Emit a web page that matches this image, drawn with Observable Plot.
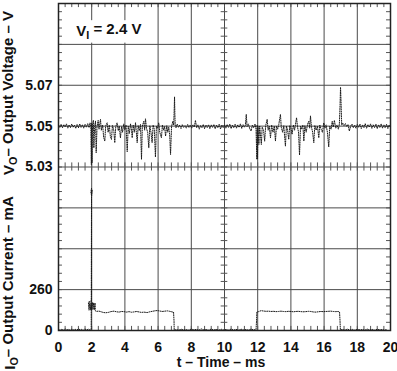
<!DOCTYPE html>
<html><head><meta charset="utf-8">
<script src="https://cdn.jsdelivr.net/npm/d3@7"></script>
<script src="https://cdn.jsdelivr.net/npm/@observablehq/plot@0.6"></script>
<style>body{margin:0;background:#fff;} svg{display:block}</style>
</head><body><div id="chart"></div>
<script>
// ---- data ----
const timeTicks = [0, 2, 4, 6, 8, 10, 12, 14, 16, 18, 20];
const voltageTicks = [5.03, 5.05, 5.07];
const currentTicks = [0, 260];
const inputLabel = "2.4 V";

const voltT = [0.00,0.08,0.16,0.24,0.32,0.40,0.48,0.56,0.64,0.72,0.80,0.88,0.96,1.04,1.12,1.20,1.28,1.36,1.44,1.52,1.60,1.68,1.76,1.84,1.90,1.95,1.98,2.00,2.02,2.05,2.10,2.13,2.18,2.23,2.27,2.32,2.39,2.44,2.53,2.58,2.66,2.72,2.79,2.84,2.93,2.99,3.06,3.13,3.19,3.25,3.33,3.39,3.45,3.53,3.60,3.66,3.73,3.80,3.86,3.93,4.00,4.07,4.14,4.20,4.27,4.34,4.40,4.44,4.50,4.57,4.64,4.70,4.74,4.80,4.87,4.94,5.00,5.05,5.14,5.19,5.24,5.30,5.37,5.44,5.50,5.57,5.64,5.70,5.77,5.84,5.90,5.97,6.04,6.10,6.20,6.26,6.33,6.39,6.45,6.52,6.58,6.64,6.70,6.75,6.81,6.89,6.94,6.97,6.99,7.01,7.03,7.08,7.15,7.22,7.30,7.38,7.46,7.54,7.62,7.70,7.78,7.86,7.94,8.02,8.10,8.18,8.25,8.32,8.40,8.48,8.56,8.64,8.72,8.80,8.88,8.96,9.04,9.12,9.20,9.28,9.36,9.44,9.52,9.60,9.68,9.76,9.84,9.92,10.00,
10.08,10.16,10.24,10.32,10.40,10.48,10.56,10.64,10.72,10.80,10.88,10.96,11.04,11.12,11.20,11.26,11.31,11.36,11.44,11.52,11.60,11.68,11.76,11.84,11.90,11.95,11.97,11.99,12.02,12.07,12.12,12.17,12.22,12.27,12.35,12.42,12.48,12.57,12.63,12.70,12.77,12.84,12.92,13.00,13.07,13.13,13.20,13.27,13.37,13.42,13.50,13.57,13.67,13.73,13.80,13.87,13.93,14.00,14.07,14.15,14.22,14.28,14.34,14.40,14.46,14.52,14.58,14.65,14.72,14.78,14.84,14.92,15.00,15.08,15.13,15.18,15.24,15.31,15.38,15.44,15.52,15.60,15.68,15.74,15.82,15.90,15.98,16.05,16.12,16.20,16.28,16.34,16.42,16.49,16.55,16.62,16.70,16.78,16.86,16.92,16.96,16.99,17.02,17.06,17.12,17.20,17.28,17.36,17.44,17.52,17.60,17.68,17.76,17.84,17.92,18.00,18.08,18.16,18.24,18.32,18.40,18.48,18.56,18.64,18.72,18.80,18.88,18.96,19.04,19.12,19.20,19.28,19.36,19.44,19.52,19.60,19.68,19.76,19.84,19.92,20.00];
const voltV = [5.0504,5.0494,5.0509,5.0492,5.0507,5.0496,5.0511,5.0490,5.0506,5.0493,5.0510,5.0495,5.0505,5.0489,5.0508,5.0492,5.0511,5.0494,5.0507,5.0490,5.0509,5.0495,5.0512,5.0493,5.0516,5.0498,5.0312,5.0515,5.0320,5.0505,5.0528,5.0394,5.0500,5.0524,5.0370,5.0497,5.0528,5.0485,5.0533,5.0480,5.0505,5.0445,5.0427,5.0500,5.0516,5.0470,5.0505,5.0445,5.0435,5.0503,5.0480,5.0419,5.0498,5.0516,5.0478,5.0500,5.0443,5.0498,5.0470,5.0510,5.0482,5.0505,5.0375,5.0500,5.0465,5.0511,5.0480,5.0443,5.0505,5.0470,5.0516,5.0460,5.0419,5.0502,5.0478,5.0508,5.0337,5.0500,5.0524,5.0480,5.0536,5.0490,5.0470,5.0394,5.0502,5.0470,5.0419,5.0505,5.0485,5.0349,5.0500,5.0490,5.0516,5.0470,5.0443,5.0505,5.0480,5.0498,5.0451,5.0502,5.0470,5.0495,5.0455,5.0361,5.0498,5.0524,5.0505,5.0580,5.0643,5.0560,5.0505,5.0492,5.0510,5.0495,5.0505,5.0488,5.0507,5.0494,5.0502,5.0490,5.0508,5.0494,5.0505,5.0490,5.0506,5.0495,5.0528,5.0492,5.0506,5.0485,5.0503,5.0492,5.0508,5.0488,5.0505,5.0493,5.0507,5.0488,5.0506,5.0494,5.0508,5.0487,5.0505,5.0492,5.0509,5.0486,5.0504,5.0493,5.0506,
5.0490,5.0508,5.0494,5.0510,5.0488,5.0505,5.0492,5.0509,5.0490,5.0506,5.0494,5.0511,5.0489,5.0507,5.0495,5.0505,5.0557,5.0498,5.0510,5.0488,5.0476,5.0505,5.0492,5.0510,5.0485,5.0337,5.0505,5.0340,5.0498,5.0410,5.0500,5.0452,5.0410,5.0495,5.0480,5.0427,5.0502,5.0533,5.0480,5.0500,5.0443,5.0505,5.0470,5.0500,5.0427,5.0500,5.0485,5.0508,5.0557,5.0495,5.0470,5.0502,5.0402,5.0500,5.0480,5.0435,5.0503,5.0492,5.0460,5.0505,5.0480,5.0510,5.0541,5.0495,5.0470,5.0359,5.0500,5.0485,5.0505,5.0427,5.0502,5.0470,5.0508,5.0524,5.0490,5.0549,5.0495,5.0470,5.0419,5.0503,5.0480,5.0500,5.0443,5.0505,5.0485,5.0470,5.0516,5.0490,5.0505,5.0470,5.0398,5.0500,5.0485,5.0524,5.0495,5.0528,5.0490,5.0505,5.0485,5.0510,5.0600,5.0690,5.0620,5.0505,5.0515,5.0502,5.0512,5.0498,5.0508,5.0476,5.0500,5.0510,5.0492,5.0505,5.0490,5.0508,5.0494,5.0510,5.0488,5.0506,5.0493,5.0512,5.0490,5.0507,5.0495,5.0511,5.0489,5.0506,5.0493,5.0510,5.0488,5.0507,5.0494,5.0511,5.0490,5.0506,5.0492,5.0509,5.0488,5.0505,5.0495];

const currT = [0.00,0.10,0.20,0.30,0.40,0.50,0.60,0.70,0.80,0.90,1.00,1.10,1.20,1.30,1.40,1.50,1.60,1.70,1.80,1.90,1.97,1.99,1.95,1.99,2.02,1.99,1.99,1.80,1.84,1.88,1.92,1.96,2.00,2.04,2.08,2.12,2.16,2.20,2.22,2.25,2.30,2.45,2.60,2.73,2.85,3.00,3.15,3.33,3.50,3.65,3.80,3.94,4.10,4.25,4.40,4.54,4.70,4.85,5.00,5.15,5.34,5.50,5.65,5.80,5.94,6.10,6.25,6.40,6.55,6.70,6.85,6.93,6.96,6.97,7.10,7.25,7.40,7.55,7.70,7.85,8.00,8.15,8.30,8.45,8.60,8.75,8.90,9.05,9.20,9.35,9.50,9.65,9.80,9.95,10.10,10.25,10.40,10.55,10.70,10.85,11.00,11.15,11.30,11.45,11.60,11.75,11.90,11.93,11.95,12.05,12.20,12.35,12.50,12.65,12.80,12.95,13.10,13.25,13.40,13.55,13.70,13.85,14.00,14.15,14.30,14.45,14.60,14.75,14.90,15.05,15.20,15.35,15.50,15.65,15.80,15.95,16.10,16.25,16.40,16.55,16.70,16.85,16.93,16.96,16.98,17.10,17.25,17.40,17.55,17.70,17.85,18.00,18.15,18.30,18.45,18.60,18.75,18.90,19.05,19.20,19.35,19.50,19.65,19.80,19.95];
const currI = [6,2,8,3,10,4,7,2,9,4,8,3,10,5,7,2,9,4,8,3,6,905,880,860,895,850,190,180,130,178,132,176,130,178,134,176,132,175,128,122,122,123,118,114,113,115,120,123,119,117,121,120,117,120,116,118,121,118,115,117,114,119,122,125,127,124,121,123,125,122,118,117,60,3,5,2,8,3,6,2,9,4,7,2,10,4,6,2,9,3,7,2,8,4,6,2,9,3,7,2,8,4,6,2,9,4,6,60,118,120,126,124,122,123,121,122,120,121,123,121,120,122,121,119,121,122,120,119,120,122,121,118,117,119,121,120,121,122,123,121,120,121,118,60,4,6,2,9,3,7,2,8,4,6,2,9,3,7,2,8,4,6,2,8];

// ---- panel mapping: 8 graticule divisions; upper half 0.02 V/div (5.03 at centre), lower half 260 mA/div ----
const vDiv = v => 4 + (v - 5.03) / 0.02;
const iDiv = i => i / 260;

const voltData = voltT.map((t, k) => ({t, d: vDiv(voltV[k])}));
const currData = currT.map((t, k) => ({t, d: iDiv(currI[k])}));

const yTickPos = [...currentTicks.map(iDiv), ...voltageTicks.map(vDiv)];
const yTickText = [...currentTicks.map(String), ...voltageTicks.map(d3.format(".2f"))];
const yLabelMap = new Map(yTickPos.map((p, k) => [p.toFixed(3), yTickText[k]]));

const divisions = d3.range(0, 9);
const minorX = d3.range(0, 20.0001, 0.4);
const minorY = d3.range(0, 8.0001, 0.2);
const gridColor = "#4a4a4a";
const tickColor = "#555";
const traceColor = "#1a1a1a";

const plot = Plot.plot({
  width: 397, height: 371,
  marginLeft: 58, marginRight: 7, marginTop: 3, marginBottom: 41,
  x: {domain: [0, 20]},
  y: {domain: [0, 8]},
  style: {fontFamily: "'Liberation Sans', Arial, sans-serif", fontWeight: "bold", fontSize: "14px", color: "#111", background: "#fff"},
  marks: [
    Plot.gridX(timeTicks, {stroke: gridColor, strokeOpacity: 1, strokeWidth: 1}),
    Plot.gridY(divisions, {stroke: gridColor, strokeOpacity: 1, strokeWidth: 1}),
    // minor graticule ticks
    Plot.ruleX(minorX, {x: d => d, y1: 8, y2: 7.9, stroke: tickColor}),
    Plot.ruleX(minorX, {x: d => d, y1: 0, y2: 0.1, stroke: tickColor}),
    Plot.ruleX(minorX, {x: d => d, y1: 3.9, y2: 4.1, stroke: tickColor}),
    Plot.ruleY(minorY, {y: d => d, x1: 0, x2: 0.24, stroke: tickColor}),
    Plot.ruleY(minorY, {y: d => d, x1: 19.76, x2: 20, stroke: tickColor}),
    Plot.ruleY(minorY, {y: d => d, x1: 9.8, x2: 10.2, stroke: tickColor}),
    Plot.frame({stroke: "#222", strokeWidth: 1.5}),
    Plot.line(voltData, {x: "t", y: "d", stroke: traceColor, strokeWidth: 1, strokeDasharray: "1,1.3"}),
    Plot.line(currData, {x: "t", y: "d", stroke: traceColor, strokeWidth: 1, strokeDasharray: "1,1.3"}),
    Plot.axisX({ticks: timeTicks, tickSize: 0, tickPadding: 12, label: null, tickFormat: d => String(d), fontSize: 14, fontWeight: "bold"}),
    Plot.axisY({ticks: yTickPos, tickSize: 0, tickPadding: 6, label: null, tickFormat: d => yLabelMap.get(d.toFixed(3)), fontSize: 14, fontWeight: "bold"})
  ]
});
document.getElementById("chart").appendChild(plot);

// ---- titles with subscripts ----
const svg = d3.select(plot);
const xs = plot.scale("x"), ys = plot.scale("y");
const font = "'Liberation Sans', Arial, sans-serif";

function subText(g, main, sub, rest, size) {
  const t = g.append("text").attr("font-family", font).attr("font-weight", "bold")
    .attr("font-size", size).attr("fill", "#111");
  t.append("tspan").text(main);
  t.append("tspan").attr("font-size", size * 0.72).attr("dy", "0.3em").text(sub);
  t.append("tspan").attr("dy", "-0.3em").text(rest);
  return t;
}

subText(svg.append("g").attr("transform", "translate(14,93) rotate(-90)"), "V", "O", "\u2013 Output Voltage \u2013 V", 15)
  .attr("text-anchor", "middle");
subText(svg.append("g").attr("transform", "translate(14.5,283) rotate(-90)"), "I", "O", "\u2013 Output Current \u2013 mA", 15)
  .attr("text-anchor", "middle");

svg.append("text").attr("x", 221).attr("y", 367).attr("text-anchor", "middle")
  .attr("font-family", font).attr("font-weight", "bold").attr("font-size", 14).attr("fill", "#111")
  .text("t \u2013 Time \u2013 ms");

// input-voltage annotation box
const boxX1 = xs.apply(0.24), boxX2 = xs.apply(5.5), boxY1 = ys.apply(7.58), boxY2 = ys.apply(7.03);
svg.append("rect").attr("x", boxX1).attr("y", boxY1).attr("width", boxX2 - boxX1).attr("height", boxY2 - boxY1).attr("fill", "#fff");
subText(svg.append("g").attr("transform", `translate(${xs.apply(1.1)},${ys.apply(7.2)})`), "V", "I", " = " + inputLabel, 15)
  .attr("text-anchor", "start");
</script>
</body></html>
